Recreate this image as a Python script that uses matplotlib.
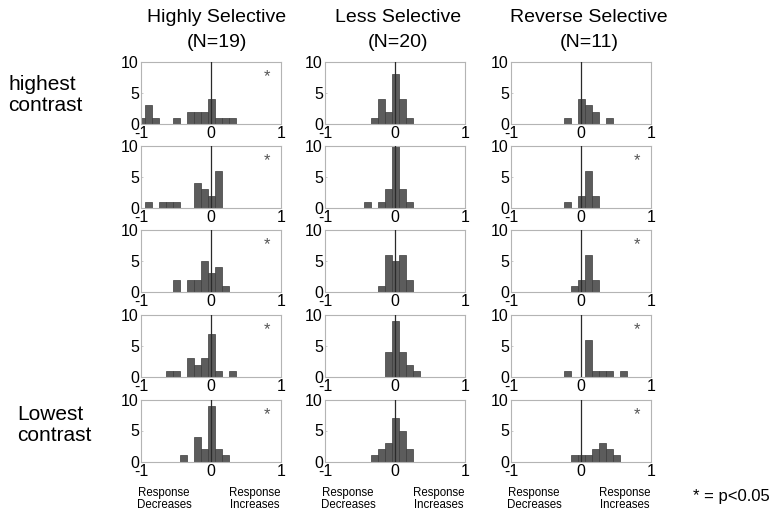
import matplotlib
matplotlib.use("Agg")
import matplotlib.pyplot as plt
import numpy as np

plt.rcParams["font.family"] = ["Liberation Sans", "DejaVu Sans"]

# =========================
# DATA (counts per 0.1-wide bin, bin centres -1.0 ... 1.0)
# =========================
bin_centers = np.round(np.arange(-10, 11) / 10.0, 1)

col_titles = ["Highly Selective", "Less Selective", "Reverse Selective"]
col_n = ["(N=19)", "(N=20)", "(N=11)"]

highly_selective = [
    [1, 3, 1, 0, 0, 1, 0, 2, 2, 2, 4, 1, 1, 1, 0, 0, 0, 0, 0, 0, 0],
    [0, 1, 0, 1, 1, 1, 0, 0, 4, 3, 2, 6, 0, 0, 0, 0, 0, 0, 0, 0, 0],
    [0, 0, 0, 0, 0, 2, 0, 2, 2, 5, 3, 4, 1, 0, 0, 0, 0, 0, 0, 0, 0],
    [0, 0, 0, 0, 1, 1, 0, 3, 2, 3, 7, 1, 0, 1, 0, 0, 0, 0, 0, 0, 0],
    [0, 0, 0, 0, 0, 0, 1, 0, 4, 2, 9, 2, 1, 0, 0, 0, 0, 0, 0, 0, 0],
]
less_selective = [
    [0, 0, 0, 0, 0, 0, 0, 1, 4, 2, 8, 4, 1, 0, 0, 0, 0, 0, 0, 0, 0],
    [0, 0, 0, 0, 0, 0, 1, 0, 1, 3, 11, 3, 1, 0, 0, 0, 0, 0, 0, 0, 0],
    [0, 0, 0, 0, 0, 0, 0, 0, 1, 6, 5, 6, 2, 0, 0, 0, 0, 0, 0, 0, 0],
    [0, 0, 0, 0, 0, 0, 0, 0, 0, 4, 9, 4, 2, 1, 0, 0, 0, 0, 0, 0, 0],
    [0, 0, 0, 0, 0, 0, 0, 1, 2, 3, 7, 5, 2, 0, 0, 0, 0, 0, 0, 0, 0],
]
reverse_selective = [
    [0, 0, 0, 0, 0, 0, 0, 0, 1, 0, 4, 3, 2, 0, 1, 0, 0, 0, 0, 0, 0],
    [0, 0, 0, 0, 0, 0, 0, 0, 1, 0, 2, 6, 2, 0, 0, 0, 0, 0, 0, 0, 0],
    [0, 0, 0, 0, 0, 0, 0, 0, 0, 1, 2, 6, 2, 0, 0, 0, 0, 0, 0, 0, 0],
    [0, 0, 0, 0, 0, 0, 0, 0, 1, 0, 0, 6, 1, 1, 1, 0, 1, 0, 0, 0, 0],
    [0, 0, 0, 0, 0, 0, 0, 0, 0, 1, 1, 1, 2, 3, 2, 1, 0, 0, 0, 0, 0],
]
columns = [highly_selective, less_selective, reverse_selective]

# significance stars (p<0.05) per column / row
significant = [
    [True, True, True, True, True],
    [False, False, False, False, False],
    [False, True, True, True, True],
]

row_labels = {0: "highest\ncontrast", 4: "Lowest\ncontrast"}

# =========================
# LAYOUT (pixels)
# =========================
W, H = 772, 518
col_left = [141, 325, 511]
row_top = [62, 146, 230, 315, 399.5]
ax_w, ax_h = 140, 62
title_x = [217, 398, 589]

BAR = "#5c5c5c"
EDGE = "#3c3c3c"
SPINE = "#b4b4b4"

fig = plt.figure(figsize=(W / 100, H / 100), dpi=100)

for c, col in enumerate(columns):
    for r, counts in enumerate(col):
        ax = fig.add_axes([col_left[c] / W, 1 - (row_top[r] + ax_h) / H, ax_w / W, ax_h / H])
        counts = np.array(counts)
        m = counts > 0
        ax.bar(bin_centers[m], counts[m], width=0.1, color=BAR, edgecolor=EDGE,
               linewidth=0.5, zorder=2)
        ax.axvline(0, color="#2a2a2a", lw=0.9, zorder=3)
        ax.set_xlim(-1, 1)
        ax.set_ylim(0, 10)
        ax.set_xticks([-1, 0, 1])
        ax.set_xticklabels(["-1", "0", "1"])
        ax.set_yticks([0, 5, 10])
        for s in ax.spines.values():
            s.set_color(SPINE)
            s.set_linewidth(0.8)
        ax.tick_params(direction="in", length=1.5, width=0.5, color=SPINE,
                       labelsize=11.5, pad=1.5)
        if significant[c][r]:
            ax.text(0.8, 7.6, "*", ha="center", va="center", fontsize=12, color="#555555")
        if r == 4:
            for x, lab in [(-0.67, "Response\nDecreases"), (0.62, "Response\nIncreases")]:
                ax.annotate(lab, xy=(x, 0), xycoords=("data", "axes fraction"),
                            xytext=(0, -27), textcoords="offset points",
                            ha="center", va="center", fontsize=8.3, linespacing=1.1)

# column titles
for c in range(3):
    fig.text(title_x[c] / W, 1 - 18 / H, col_titles[c], ha="center", va="center", fontsize=14)
    fig.text(title_x[c] / W, 1 - 42 / H, col_n[c], ha="center", va="center", fontsize=14)

# row labels
fig.text(8 / W, 1 - 95 / H, row_labels[0], ha="left", va="center", fontsize=15, linespacing=1.15)
fig.text(17 / W, 1 - 425 / H, row_labels[4], ha="left", va="center", fontsize=15, linespacing=1.15)

fig.text(770 / W, 1 - 496 / H, "* = p<0.05", ha="right", va="center", fontsize=12)

fig.savefig("out.png", dpi=100)
